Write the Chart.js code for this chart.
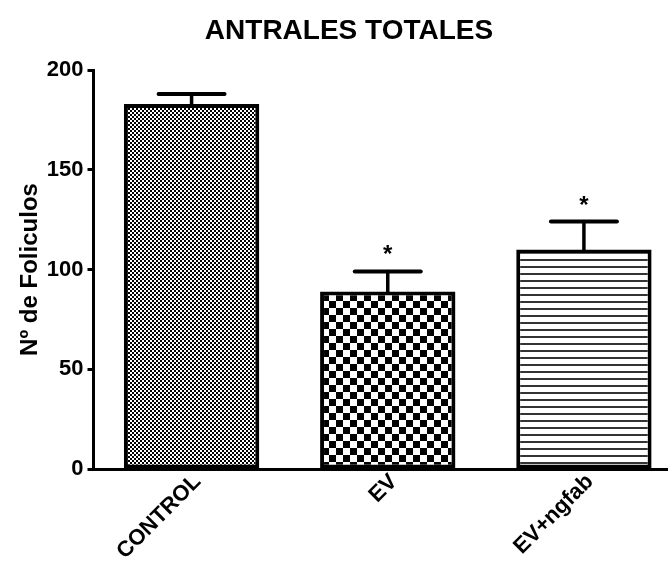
<!DOCTYPE html>
<html>
<head>
<meta charset="utf-8">
<script src="https://cdn.jsdelivr.net/npm/chart.js@4.4.1/dist/chart.umd.min.js"></script>
<style>
  html, body { margin: 0; padding: 0; background: #fff; overflow: hidden; }
  #wrap { width: 682px; height: 566px; }
</style>
</head>
<body>
<div id="wrap"><canvas id="c" width="682" height="566"></canvas></div>
<script>
// Groups and mean follicle counts
const categories = ['CONTROL', 'EV', 'EV+ngfab'];
const means = [183, 89, 110];
// Upper error (mean + SEM)
const upperErrors = [188, 99, 124];
// Significance marks shown above each group
const marks = ['', '*', '*'];
const yTicks = [0, 50, 100, 150, 200];

const FONT = 'Liberation Sans, Arial, Helvetica, sans-serif';

function checker(cell) {
  const c = document.createElement('canvas');
  c.width = cell * 2; c.height = cell * 2;
  const g = c.getContext('2d');
  g.fillStyle = '#fff'; g.fillRect(0, 0, c.width, c.height);
  g.fillStyle = '#000';
  g.fillRect(0, 0, cell, cell);
  g.fillRect(cell, cell, cell, cell);
  return g.createPattern(c, 'repeat');
}
function hlines(period, thick, color) {
  const c = document.createElement('canvas');
  c.width = 4; c.height = period;
  const g = c.getContext('2d');
  g.fillStyle = '#fff'; g.fillRect(0, 0, c.width, c.height);
  g.fillStyle = color; g.fillRect(0, 0, c.width, thick);
  return g.createPattern(c, 'repeat');
}

const fills = [checker(2), checker(7), hlines(7, 2, '#333')];

// Error bars and asterisks drawn from the data arrays via the scales
const errorBars = {
  id: 'errorBars',
  afterDatasetsDraw(chart) {
    const ctx = chart.ctx;
    const y = chart.scales.y;
    const meta = chart.getDatasetMeta(0);
    ctx.save();
    ctx.strokeStyle = '#000';
    ctx.lineCap = 'round';
    meta.data.forEach((bar, i) => {
      const x = bar.x;
      const yTop = y.getPixelForValue(upperErrors[i]);
      const yMean = y.getPixelForValue(means[i]);
      ctx.lineWidth = 3.5;
      ctx.beginPath();
      ctx.moveTo(x, yMean);
      ctx.lineTo(x, yTop);
      ctx.stroke();
      ctx.lineWidth = 4;
      ctx.beginPath();
      ctx.moveTo(x - 33, yTop);
      ctx.lineTo(x + 33, yTop);
      ctx.stroke();
      if (marks[i]) {
        ctx.fillStyle = '#000';
        ctx.font = 'bold 24px ' + FONT;
        ctx.textAlign = 'center';
        ctx.textBaseline = 'alphabetic';
        ctx.fillText(marks[i], x, yTop - 9);
      }
    });
    ctx.restore();
  }
};

new Chart(document.getElementById('c'), {
  type: 'bar',
  data: {
    labels: categories,
    datasets: [{
      data: means,
      backgroundColor: fills,
      borderColor: '#000',
      borderWidth: 4,
      borderSkipped: false,
      barPercentage: 0.69,
      categoryPercentage: 1.0
    }]
  },
  options: {
    responsive: false,
    animation: false,
    devicePixelRatio: 1,
    layout: { padding: { left: 16, right: 0, top: 0, bottom: 0 } },
    plugins: {
      legend: { display: false },
      tooltip: { enabled: false },
      title: {
        display: true,
        text: 'ANTRALES TOTALES',
        color: '#000',
        font: { family: FONT, size: 28, weight: 'bold' },
        padding: { top: 14, bottom: 22.4 }
      }
    },
    scales: {
      x: {
        afterFit(s) { s.height = 566 - 469; },
        grid: { display: false },
        border: { display: true, color: '#000', width: 3 },
        ticks: {
          color: '#000',
          font: { family: FONT, size: 22, weight: 'bold' },
          minRotation: 45,
          maxRotation: 45,
          padding: -8,
          labelOffset: 6,
          autoSkip: false
        }
      },
      y: {
        min: 0,
        max: 200,
        afterFit(s) { s.width = 77.5; },
        afterBuildTicks(s) { s.ticks = yTicks.map(v => ({ value: v })); },
        grid: {
          display: true,
          drawOnChartArea: false,
          drawTicks: true,
          tickLength: 6,
          tickColor: '#000',
          tickWidth: 3
        },
        border: { display: true, color: '#000', width: 3 },
        ticks: {
          color: '#000',
          font: { family: FONT, size: 22, weight: 'bold' },
          padding: 4
        },
        title: {
          display: true,
          text: 'Nº de Foliculos',
          color: '#000',
          font: { family: FONT, size: 24, weight: 'bold' },
          padding: { top: 0, bottom: 0 }
        }
      }
    }
  },
  plugins: [errorBars]
});
</script>
</body>
</html>
